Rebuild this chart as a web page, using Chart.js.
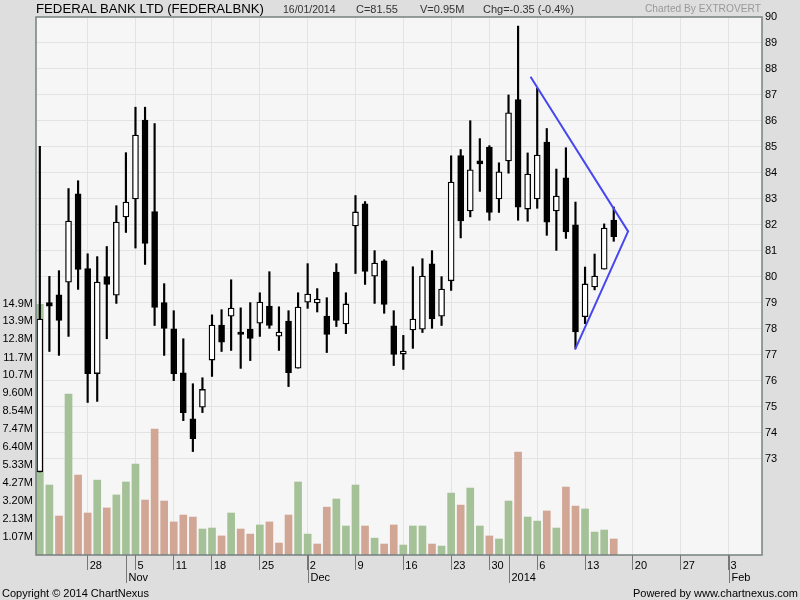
<!DOCTYPE html>
<html>
<head>
<meta charset="utf-8">
<title>FEDERAL BANK LTD (FEDERALBNK)</title>
<script src="https://cdn.jsdelivr.net/npm/chart.js@4"></script>
<style>
  body { margin: 0; background: #dedede; font-family: "Liberation Sans", Arial, sans-serif; }
  #wrap { position: relative; width: 800px; height: 600px; }
  canvas { position: absolute; left: 0; top: 0; }
  .txt { position: absolute; white-space: nowrap; font-size: 11px; line-height: 14px; color: #333; }
</style>
</head>
<body>
<div id="wrap">
  <canvas id="chart" width="800" height="600"></canvas>
  <div class="txt" style="left:36px; top:0; font-size:13.2px; line-height:17px; color:#000;">FEDERAL BANK LTD (FEDERALBNK)</div>
  <div class="txt" style="left:283px; top:2px; font-size:10.5px;">16/01/2014</div>
  <div class="txt" style="left:356px; top:2px;">C=81.55</div>
  <div class="txt" style="left:420px; top:2px;">V=0.95M</div>
  <div class="txt" style="left:483px; top:2px;">Chg=-0.35 (-0.4%)</div>
  <div class="txt" style="left:645px; top:2px; font-size:10.2px; color:#999;">Charted By EXTROVERT</div>
  <div class="txt" style="left:2px; top:586px; color:#000;">Copyright © 2014 ChartNexus</div>
  <div class="txt" style="right:2px; top:586px; color:#000;">Powered by www.chartnexus.com</div>
</div>

<script>
  // daily candles, 21 Oct 2013 .. 16 Jan 2014 (one slot per trading day)
  const opens = [72.50, 79.01, 79.31, 79.80, 83.20, 80.32, 76.28, 80.01, 79.30, 82.31,
                 83.00, 86.03, 82.51, 79.01, 78.00, 76.31, 74.54, 74.99, 76.80, 78.15,
                 78.49, 77.88, 77.99, 78.22, 78.88, 77.72, 78.30, 76.49, 79.03, 79.00,
                 78.49, 80.19, 78.19, 81.96, 82.81, 80.03, 80.62, 78.12, 77.03, 77.96,
                 77.99, 80.50, 78.49, 79.85, 84.67, 82.54, 84.47, 84.99, 83.00, 84.46,
                 86.82, 82.61, 83.00, 85.19, 82.54, 83.81, 82.00, 78.47, 79.61, 80.30,
                 82.19];
  const highs = [85.02, 80.02, 80.24, 83.40, 83.70, 80.89, 80.78, 81.17, 82.74, 84.78,
                 86.53, 86.53, 85.90, 79.74, 78.70, 77.62, 75.89, 76.12, 78.54, 78.74,
                 79.89, 78.81, 79.01, 79.39, 80.20, 78.85, 78.70, 79.39, 80.51, 79.55,
                 79.20, 80.51, 79.39, 83.13, 82.90, 81.01, 80.66, 78.70, 77.75, 80.39,
                 80.70, 81.01, 80.01, 84.66, 84.90, 86.01, 85.32, 85.05, 84.39, 87.00,
                 89.65, 84.77, 87.26, 85.71, 84.15, 84.97, 82.88, 80.38, 80.88, 82.04,
                 82.69];
  const lows = [72.50, 77.13, 76.98, 77.71, 79.52, 75.17, 75.21, 77.62, 78.98, 81.71,
                81.11, 80.48, 78.13, 76.98, 76.01, 74.47, 73.28, 74.78, 76.17, 77.13,
                77.17, 76.48, 76.78, 77.71, 78.02, 77.17, 75.78, 76.49, 78.79, 78.65,
                77.09, 78.09, 77.82, 80.13, 79.71, 78.98, 78.60, 76.59, 76.44, 77.25,
                77.86, 78.02, 78.13, 79.48, 81.50, 82.31, 83.29, 82.18, 82.48, 83.99,
                82.18, 82.14, 82.64, 81.60, 81.02, 81.48, 77.26, 78.20, 79.50, 80.30,
                81.37];
  const closes = [78.38, 78.87, 78.33, 82.15, 80.29, 76.28, 79.80, 79.71, 82.11, 82.88,
                  85.46, 81.29, 78.83, 78.02, 76.28, 74.78, 73.78, 75.67, 78.15, 77.49,
                  78.80, 77.79, 77.63, 79.03, 78.13, 77.88, 76.32, 78.84, 79.34, 79.15,
                  77.79, 78.33, 78.96, 82.50, 80.21, 80.53, 78.94, 77.02, 77.15, 78.38,
                  80.03, 78.38, 79.53, 83.65, 82.15, 84.12, 84.35, 82.48, 84.04, 86.31,
                  82.68, 83.96, 84.69, 82.11, 83.11, 81.73, 77.88, 79.73, 80.03, 81.88,
                  81.55];
  // volume in millions, and whether the volume bar is green (1) or red (0)
  const volumes = [14.87, 4.15, 2.31, 9.54, 4.74, 2.49, 4.44, 2.79, 3.56, 4.33,
                   5.39, 3.26, 7.47, 3.20, 1.96, 2.37, 2.25, 1.54, 1.60, 1.13,
                   2.49, 1.54, 1.24, 1.78, 1.96, 0.71, 2.37, 4.33, 1.24, 0.65,
                   2.84, 3.32, 1.72, 4.15, 1.72, 1.00, 0.65, 1.78, 0.59, 1.72,
                   1.72, 0.65, 0.53, 3.67, 2.96, 3.97, 1.72, 1.13, 0.95, 3.20,
                   6.10, 2.25, 2.01, 2.61, 1.60, 4.03, 2.90, 2.73, 1.36, 1.48,
                   0.95];
  const volUp = [1, 1, 0, 1, 0, 0, 1, 0, 1, 1,
                 1, 0, 0, 0, 0, 0, 0, 1, 1, 0,
                 1, 0, 0, 1, 0, 0, 0, 1, 1, 0,
                 0, 1, 1, 1, 0, 1, 0, 0, 1, 1,
                 1, 0, 1, 1, 0, 1, 1, 0, 1, 1,
                 0, 1, 1, 0, 1, 0, 0, 1, 1, 1,
                 0];

  // hand drawn triangle (slot index, price)
  const trendX = [51.3, 61.5, 55.95];
  const trendY = [87.7, 81.75, 77.2];

  // axis ticks
  const weekTicks = [5, 10, 14, 18, 23, 28, 33, 38, 43, 47, 52, 57, 62, 67, 72];
  const weekLabels = ['28', '5', '11', '18', '25', '2', '9', '16', '23', '30', '6', '13', '20', '27', '3'];
  const monthTicks = [9, 28, 49, 72];
  const monthLabels = ['Nov', 'Dec', '2014', 'Feb'];
  const priceTicks = [73, 74, 75, 76, 77, 78, 79, 80, 81, 82, 83, 84, 85, 86, 87, 88, 89, 90];
  const volTicks = [1.07, 2.13, 3.20, 4.27, 5.33, 6.40, 7.47, 8.54, 9.60, 10.7, 11.7, 12.8, 13.9, 14.9];
  const volTickLabels = ['1.07M', '2.13M', '3.20M', '4.27M', '5.33M', '6.40M', '7.47M', '8.54M',
                         '9.60M', '10.7M', '11.7M', '12.8M', '13.9M', '14.9M'];

  const FONT = '"Liberation Sans", Arial, sans-serif';
  Chart.defaults.font.family = FONT;
  Chart.defaults.font.size = 11;
  Chart.defaults.color = '#000';

  // plot background, frame and the month markers under the date axis
  const frame = {
    id: 'frame',
    beforeDraw(chart) {
      const { ctx, chartArea: a } = chart;
      ctx.save();
      ctx.fillStyle = '#f6f6f6';
      ctx.fillRect(a.left, a.top, a.right - a.left, a.bottom - a.top);
      ctx.restore();
    },
    afterDraw(chart) {
      const { ctx, chartArea: a } = chart;
      const xs = chart.scales.x;
      ctx.save();
      ctx.strokeStyle = '#768080';
      ctx.lineWidth = 1.5;
      ctx.strokeRect(a.left, a.top, a.right - a.left, a.bottom - a.top);

      ctx.strokeStyle = '#777';
      ctx.lineWidth = 1;
      ctx.fillStyle = '#000';
      ctx.font = '11px ' + FONT;
      ctx.textBaseline = 'middle';
      monthTicks.forEach((v, i) => {
        const x = Math.round(xs.getPixelForValue(v)) + 0.5;
        ctx.beginPath();
        ctx.moveTo(x, a.bottom);
        ctx.lineTo(x, a.bottom + 28);
        ctx.stroke();
        ctx.fillText(monthLabels[i], x + 2, a.bottom + 23);
      });
      ctx.restore();
    }
  };

  const slots = opens.map((_, i) => i);

  new Chart(document.getElementById('chart'), {
    type: 'bar',
    data: {
      datasets: [
        {
          type: 'line',
          data: trendX.map((x, i) => ({ x: x, y: trendY[i] })),
          yAxisID: 'price',
          borderColor: '#4747f2',
          borderWidth: 2,
          pointRadius: 0,
          fill: false,
          tension: 0,
          order: -1
        },
        {
          data: slots.map(i => ({ x: i, y: [opens[i], closes[i]] })),
          yAxisID: 'price',
          backgroundColor: slots.map(i => closes[i] >= opens[i] ? '#fff' : '#000'),
          borderColor: '#000',
          borderWidth: 1.3,
          borderSkipped: false,
          barThickness: 6,
          grouped: false,
          order: 0
        },
        {
          data: slots.map(i => ({ x: i, y: [lows[i], highs[i]] })),
          yAxisID: 'price',
          backgroundColor: '#000',
          barThickness: 1.5,
          grouped: false,
          order: 1
        },
        {
          data: slots.map(i => ({ x: i, y: volumes[i] })),
          yAxisID: 'vol',
          backgroundColor: volUp.map(u => u ? '#a5c197' : '#d2a695'),
          barThickness: 7,
          grouped: false,
          order: 2
        }
      ]
    },
    options: {
      animation: false,
      responsive: false,
      devicePixelRatio: 1,
      layout: { padding: { top: 17, left: 0, right: 0, bottom: 0 } },
      plugins: { legend: { display: false }, tooltip: { enabled: false } },
      scales: {
        x: {
          type: 'linear',
          position: 'bottom',
          offset: false,
          min: -0.4,
          max: 75.5,
          afterBuildTicks: s => { s.ticks = weekTicks.map(v => ({ value: v })); },
          afterFit: s => { s.height = 45; },
          grid: { offset: false, color: '#e3e3e3', tickColor: '#777', tickLength: 15 },
          border: { display: false },
          ticks: {
            autoSkip: false, maxRotation: 0, align: 'start', labelOffset: 2, padding: -11,
            callback: (v, i) => weekLabels[i]
          }
        },
        price: {
          type: 'linear',
          position: 'right',
          min: 69.3,
          max: 90,
          afterBuildTicks: s => { s.ticks = priceTicks.map(v => ({ value: v })); },
          afterFit: s => { s.width = 38; },
          grid: { color: c => (c.tick && c.tick.value < 90) ? '#e3e3e3' : 'rgba(0,0,0,0)', drawTicks: false },
          border: { display: false },
          ticks: { padding: 3, callback: v => String(v) }
        },
        vol: {
          type: 'linear',
          position: 'left',
          min: 0,
          max: 31.9,
          afterBuildTicks: s => { s.ticks = volTicks.map(v => ({ value: v })); },
          afterFit: s => { s.width = 36; },
          grid: { display: false, drawTicks: false },
          border: { display: false },
          ticks: { padding: 3, callback: (v, i) => volTickLabels[i] }
        }
      }
    },
    plugins: [frame]
  });
</script>
</body>
</html>
